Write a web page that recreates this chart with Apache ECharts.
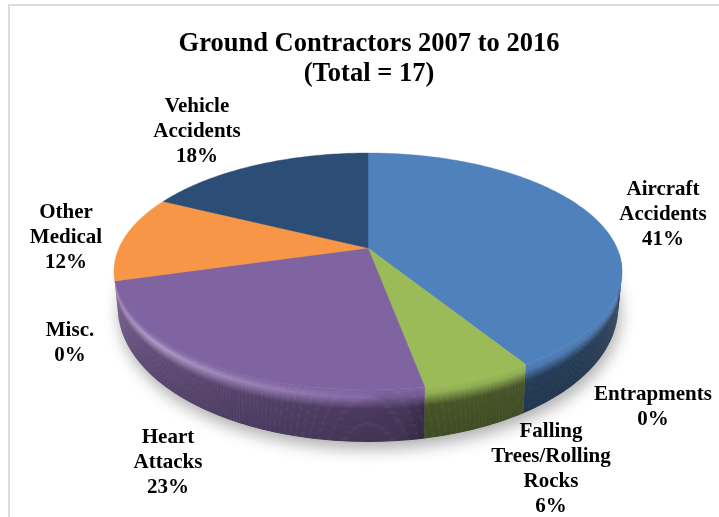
<!DOCTYPE html>
<html><head><meta charset="utf-8">
<style>html,body{margin:0;padding:0;background:#fff}#c{width:719px;height:517px}</style>
<script src="https://cdn.jsdelivr.net/npm/echarts@6/dist/echarts.min.js"></script>
</head><body><div id="c"></div>
<script>
const categories = ['Aircraft Accidents','Entrapments','Falling Trees/Rolling Rocks','Heart Attacks','Misc.','Other Medical','Vehicle Accidents'];
const values = [7,0,1,4,0,2,3];
const percentLabels = ['41%','0%','6%','23%','0%','12%','18%'];
const labelLines = [['Aircraft','Accidents'],['Entrapments'],['Falling','Trees/Rolling','Rocks'],['Heart','Attacks'],['Misc.'],['Other','Medical'],['Vehicle','Accidents']];
const colors = ['#4f81bd','#c0504d','#9bbb59','#8064a2','#4bacc6','#f79646','#2c4d75'];
const labelAnchors = [[663,188],[653,393],[551,430],[168,436],[70,329],[66,211],[197,105]];
const titleText = 'Ground Contractors 2007 to 2016\n(Total = 17)';

const total = values.reduce((a,b)=>a+b,0);
const starts = []; { let s=0; values.forEach(v=>{starts.push(s); s+=v/total*360;}); }
const rad = d=>d*Math.PI/180;
const CX=368, AY=248, C=-0.198, B=64.7, K=249;
function proj(r,deg){
  const u=r*Math.sin(rad(deg)), v=-r*Math.cos(rad(deg)), d=1+C*v;
  return [CX+K*u/d,(AY+B*v)/d];
}
function baseOf(deg){
  const p=proj(1,deg), v=-Math.cos(rad(deg));
  return [CX+(p[0]-CX)*0.985, p[1]+31+21*v];
}
function hex(c){return [1,3,5].map(i=>parseInt(c.substr(i,2),16));}
function rgb(a){return 'rgb('+a.map(x=>Math.round(Math.min(255,x))).join(',')+')';}
function wallM(d){return d<170?0.45:0.54+0.3*Math.min(1,(d-170)/85);}
function hi(d){return Math.max(0,1-Math.abs(d-228)/50)*0.34;}
function lerp(a,b,t){return a.map((x,i)=>x+(b[i]-x)*t);}
// shade of the side wall at angle d and fraction t from rim to base
function shade(col,d,t){
  const c=hex(col), m=wallM(d), h=hi(d);
  const wall=c.map(x=>x*m), low=c.map(x=>x*m*0.9);
  const lip=h>0.02?c.map(x=>x*1.03*(1-h)+255*h):c.map(x=>x*0.92);
  if(t<0.13) return rgb(lerp(c,lip,t/0.13));
  if(t<0.36) return rgb(lerp(lip,wall,(t-0.13)/0.23));
  return rgb(lerp(wall,low,(t-0.36)/0.64));
}
const BANDS=50;
const WALL_FROM=92, WALL_TO=256;
function wallItem(i){
  const a=Math.max(WALL_FROM,starts[i]), e=Math.min(WALL_TO,starts[i]+values[i]/total*360), col=colors[i], kids=[];
  if(e<=a) return {type:'group',children:[]};
  for(let b=BANDS-1;b>=0;b--){
    const t0=b/BANDS, t1=Math.min(1,(b+1)/BANDS+0.012), upper=[], lower=[];
    for(let d=a;;d+=1){
      const dd=Math.min(d,e), p=proj(1,dd), q=baseOf(dd);
      upper.push([p[0]+(q[0]-p[0])*t0,p[1]+(q[1]-p[1])*t0]);
      lower.push([p[0]+(q[0]-p[0])*t1,p[1]+(q[1]-p[1])*t1]);
      if(dd>=e) break;
    }
    const pts=upper.concat(lower.reverse());
    const xs=pts.map(p=>p[0]), x0=Math.min(...xs), x1=Math.max(...xs), stops=[];
    for(let k=0;k<upper.length;k+=4){
      const off=(upper[k][0]-x0)/(x1-x0);
      stops.push({offset:Math.max(0,Math.min(1,off)),color:shade(col,a+k,(b+0.5)/BANDS)});
    }
    stops.sort((p,q)=>p.offset-q.offset);
    kids.push({type:'polygon',shape:{points:pts},style:{fill:{type:'linear',x:0,y:0,x2:1,y2:0,colorStops:stops}}});
  }
  return {type:'group',children:kids};
}
function shadowItem(){
  const pts=[]; for(let d=0;d<360;d+=3){pts.push(baseOf(d));}
  return {type:'polygon',shape:{points:pts},style:{fill:'#bbb',shadowBlur:16,shadowColor:'rgba(0,0,0,0.32)',shadowOffsetY:7,shadowOffsetX:2}};
}
function topItem(i){
  const a=starts[i], e=a+values[i]/total*360, pts=[proj(0,0)];
  for(let d=a;d<e;d+=1)pts.push(proj(1,d));
  pts.push(proj(1,e));
  return {type:'polygon',shape:{points:pts},style:{fill:colors[i],stroke:colors[i],lineWidth:0.4}};
}
function labelItem(i){
  const lines=labelLines[i].concat([percentLabels[i]]);
  return {type:'text',x:labelAnchors[i][0],y:labelAnchors[i][1]-10.5,style:{
    text:lines.join('\n'),font:'bold 21px "Liberation Serif"',lineHeight:25,fill:'#000',
    align:'center',verticalAlign:'top'}};
}
const idx=categories.map((c,i)=>[i]);
const none=()=>({type:'group',children:[]});
const chart=echarts.init(document.getElementById('c'),null,{renderer:'canvas'});
chart.setOption({
  animation:false,backgroundColor:'#fff',
  title:{text:titleText,left:364,top:24,textAlign:'center',
    textStyle:{fontFamily:'Liberation Serif',fontWeight:'bold',fontSize:26.5,lineHeight:30,color:'#000'}},
  graphic:[
    {type:'rect',shape:{x:8,y:4,width:711,height:2},style:{fill:'#dcdcdc'},silent:true},
    {type:'rect',shape:{x:8,y:4,width:2,height:513},style:{fill:'#dcdcdc'},silent:true}
  ],
  series:[
    {type:'custom',coordinateSystem:'none',silent:true,z:1,data:[[0]],renderItem:()=>shadowItem()},
    {type:'custom',coordinateSystem:'none',silent:true,z:2,data:idx,renderItem:(p)=>values[p.dataIndex]>0?wallItem(p.dataIndex):none()},
    {type:'custom',coordinateSystem:'none',silent:true,z:3,data:idx,renderItem:(p)=>values[p.dataIndex]>0?topItem(p.dataIndex):none()},
    {type:'custom',coordinateSystem:'none',silent:true,z:4,data:idx,renderItem:(p)=>labelItem(p.dataIndex)}
  ]
});
</script></body></html>
